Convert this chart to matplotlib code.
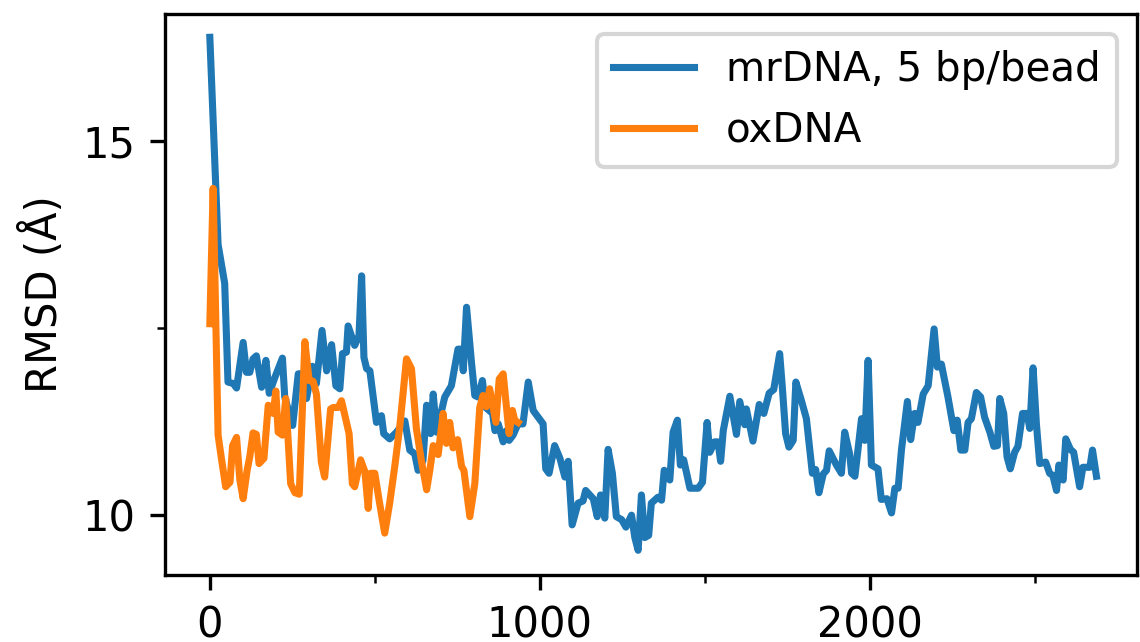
import matplotlib
matplotlib.use("Agg")
import matplotlib.pyplot as plt
from matplotlib.ticker import MultipleLocator

# RMSD time series (x in simulation steps, y in Angstrom)
mrdna_x = [0, 25, 45, 55, 71, 81, 101, 111, 121, 131, 141, 157, 170, 180, 197, 220, 227,
           251, 268, 285, 293, 311, 323, 340, 354, 369, 382, 394, 402, 414, 419, 439, 452,
           460, 467, 475, 485, 505, 520, 527, 545, 566, 591, 606, 621, 631, 646, 657, 669,
           677, 687, 712, 732, 752, 763, 768, 778, 793, 803, 813, 826, 836, 857, 864, 874,
           889, 899, 907, 919, 934, 949, 965, 980, 1010, 1018, 1028, 1045, 1061, 1076, 1086,
           1098, 1116, 1131, 1139, 1162, 1174, 1184, 1197, 1207, 1220, 1232, 1248, 1261,
           1278, 1288, 1298, 1308, 1318, 1330, 1338, 1358, 1369, 1377, 1394, 1404, 1417,
           1426, 1436, 1455, 1480, 1493, 1507, 1515, 1530, 1540, 1548, 1556, 1576, 1596,
           1606, 1621, 1626, 1646, 1665, 1679, 1695, 1709, 1727, 1735, 1745, 1755, 1768,
           1776, 1793, 1808, 1826, 1836, 1846, 1859, 1869, 1877, 1899, 1914, 1924, 1939,
           1945, 1955, 1975, 1985, 1995, 2005, 2025, 2035, 2052, 2066, 2076, 2086, 2096,
           2114, 2124, 2136, 2146, 2162, 2177, 2195, 2205, 2217, 2237, 2255, 2265, 2276,
           2288, 2298, 2308, 2323, 2336, 2348, 2364, 2376, 2387, 2394, 2406, 2416, 2426,
           2439, 2449, 2463, 2477, 2485, 2495, 2505, 2515, 2533, 2545, 2555, 2566, 2573,
           2586, 2594, 2608, 2618, 2636, 2646, 2667, 2675, 2687]
mrdna_y = [16.39, 13.62, 13.10, 11.78, 11.76, 11.70, 12.31, 11.91, 11.91, 12.09, 12.13, 11.71,
           12.07, 11.63, 11.84, 12.10, 11.58, 11.20, 11.89, 11.89, 11.56, 11.99, 11.76, 12.47,
           11.93, 12.28, 11.73, 11.69, 12.16, 12.18, 12.53, 12.27, 12.40, 13.20, 12.11, 11.96,
           11.93, 11.24, 11.33, 11.09, 11.02, 11.11, 11.26, 10.87, 10.82, 10.60, 10.73, 11.47,
           11.09, 11.62, 11.11, 11.58, 11.73, 12.22, 12.22, 11.93, 12.78, 12.04, 11.60, 11.58,
           11.80, 11.44, 11.36, 11.13, 11.22, 10.98, 11.13, 11.00, 11.07, 11.22, 11.22, 11.78,
           11.40, 11.22, 10.62, 10.56, 10.93, 10.76, 10.51, 10.72, 9.87, 10.16, 10.19, 10.33,
           10.22, 9.98, 10.27, 9.96, 10.88, 10.56, 9.98, 9.94, 9.84, 10.00, 9.70, 9.53, 10.27,
           9.70, 9.73, 10.16, 10.24, 10.20, 10.60, 10.47, 11.11, 11.27, 10.67, 10.74, 10.36,
           10.36, 10.44, 11.24, 10.84, 10.98, 10.98, 10.72, 11.13, 11.59, 11.08, 11.52, 11.21,
           11.42, 10.99, 11.48, 11.36, 11.63, 11.68, 12.16, 11.71, 11.09, 10.91, 11.00, 11.78,
           11.53, 11.29, 10.56, 10.61, 10.30, 10.55, 10.60, 10.86, 10.67, 10.56, 11.11, 10.82,
           10.56, 10.52, 11.29, 11.00, 12.07, 10.67, 10.62, 10.21, 10.22, 10.03, 10.36, 10.36,
           10.87, 11.52, 11.01, 11.36, 11.24, 11.62, 11.73, 12.49, 11.98, 12.02, 11.58, 11.13,
           11.27, 10.87, 10.87, 11.24, 11.29, 11.64, 11.58, 11.31, 11.11, 10.92, 10.93, 11.56,
           11.36, 10.78, 10.62, 10.84, 10.92, 11.36, 11.36, 11.16, 11.97, 11.22, 10.69, 10.71,
           10.56, 10.53, 10.33, 10.67, 10.47, 11.02, 10.88, 10.84, 10.38, 10.64, 10.64, 10.87,
           10.52]

oxdna_x = [0, 10, 25, 35, 48, 61, 69, 81, 91, 101, 113, 121, 131, 141, 149, 164, 177, 192,
           200, 207, 220, 230, 245, 258, 271, 288, 301, 313, 323, 338, 348, 366, 374, 389,
           399, 422, 432, 439, 457, 470, 480, 487, 500, 513, 530, 545, 561, 576, 596, 611,
           626, 641, 657, 667, 677, 692, 707, 717, 727, 737, 751, 763, 770, 788, 803, 818,
           828, 838, 848, 867, 877, 889, 907, 917, 924, 934]
oxdna_y = [12.56, 14.37, 11.07, 10.76, 10.38, 10.44, 10.93, 11.04, 10.47, 10.22, 10.60, 10.78,
           11.10, 11.08, 10.69, 10.76, 11.47, 11.36, 11.66, 11.11, 11.07, 11.56, 10.42, 10.30,
           10.28, 12.32, 11.80, 11.79, 11.62, 10.71, 10.51, 11.42, 11.44, 11.44, 11.53, 11.09,
           10.42, 10.38, 10.74, 10.58, 10.09, 10.56, 10.56, 10.20, 9.76, 10.16, 10.67, 11.20,
           12.09, 11.96, 11.16, 10.73, 10.34, 10.61, 10.93, 10.81, 11.36, 10.96, 11.24, 10.90,
           11.01, 10.65, 10.60, 9.98, 10.42, 11.44, 11.60, 11.45, 11.69, 11.24, 11.82, 11.89,
           11.09, 11.40, 11.27, 11.24]

plt.rcParams["font.family"] = ["DejaVu Sans"]
plt.rcParams["font.size"] = 10

fig = plt.figure(figsize=(3.8, 2.14), dpi=300)
ax = fig.add_axes([0.1447, 0.1044, 0.8527, 0.8736])

ax.plot(mrdna_x, mrdna_y, color="#1f77b4", lw=1.7, label="mrDNA, 5 bp/bead")
ax.plot(oxdna_x, oxdna_y, color="#ff7f0e", lw=1.7, label="oxDNA")

ax.set_xlim(-136, 2810)
ax.set_ylim(9.2, 16.7)
ax.xaxis.set_major_locator(MultipleLocator(1000))
ax.xaxis.set_minor_locator(MultipleLocator(500))
ax.yaxis.set_major_locator(MultipleLocator(5))
ax.yaxis.set_minor_locator(MultipleLocator(2.5))

ax.set_ylabel("RMSD (Å)")
ax.legend(loc="upper right", fontsize=9.7)

fig.savefig("out.png", dpi=300)
